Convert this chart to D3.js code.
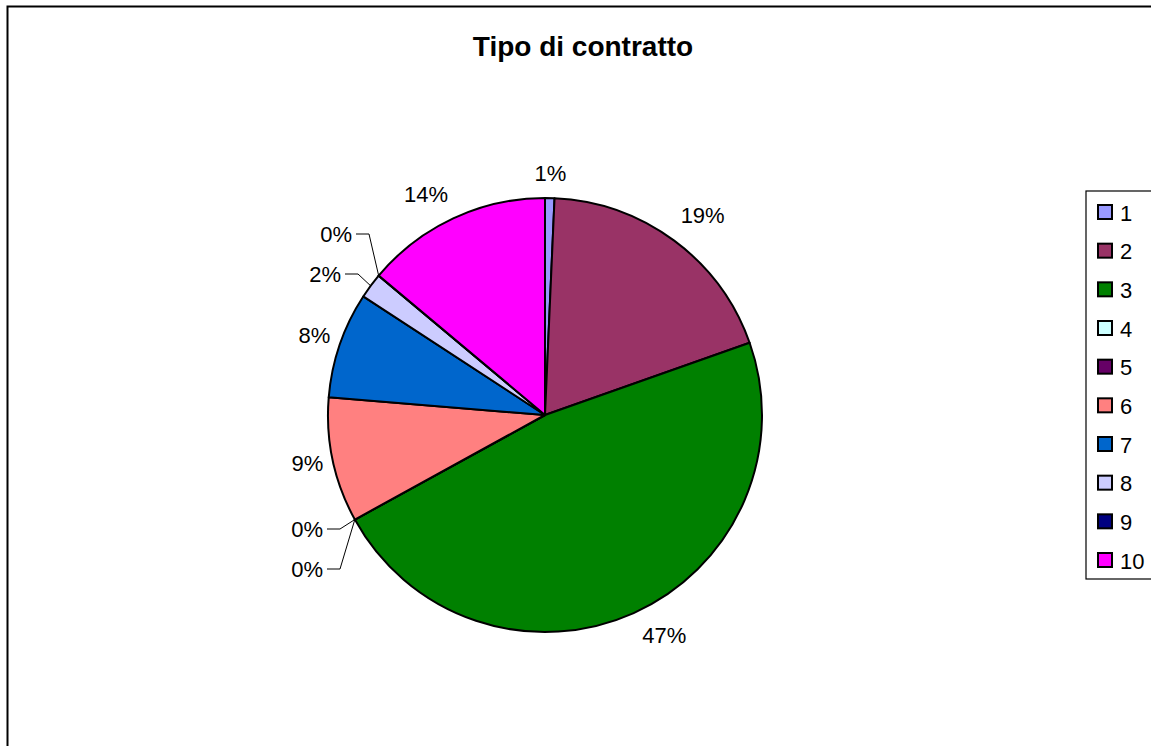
<!DOCTYPE html>
<html>
<head>
<meta charset="utf-8">
<script src="https://cdn.jsdelivr.net/npm/d3@7"></script>
<style>
  body { margin: 0; background: #fff; }
  svg { display: block; font-family: "Liberation Sans", Arial, sans-serif; }
</style>
</head>
<body>
<div id="chart"></div>
<script>
// data (percent shares)
const categories = ["1", "2", "3", "4", "5", "6", "7", "8", "9", "10"];
const shares = [0.7, 18.9, 47.4, 0, 0, 9.3, 7.9, 1.9, 0, 13.9];
const colors = ["#9999FF", "#993366", "#008000", "#CCFFFF", "#660066",
                "#FF8080", "#0066CC", "#CCCCFF", "#000080", "#FF00FF"];
const title = "Tipo di contratto";

const width = 1151, height = 746;
const cx = 545, cy = 415, radius = 217;

// label placement tweaks (layout only)
const labelNudge = { 0: [0, 6], 1: [10, 0], 2: [18, -6], 5: [5, -3], 6: [4, 1], 9: [-14, 4] };
// labels pulled away with leader lines: offset of text end from pie centre
const leaderLabels = { 3: [-222, 114], 4: [-222, 154], 7: [-204, -141], 8: [-193, -181] };

const svg = d3.select("#chart").append("svg")
  .attr("width", width)
  .attr("height", height);

// chart frame
svg.append("rect")
  .attr("x", 7.5).attr("y", 6.5)
  .attr("width", 1160).attr("height", 770)
  .attr("fill", "none").attr("stroke", "#000").attr("stroke-width", 2);

svg.append("text")
  .attr("x", 583).attr("y", 56)
  .attr("text-anchor", "middle")
  .attr("font-weight", "bold")
  .attr("font-size", 28)
  .text(title);

const data = categories.map((c, i) => ({ cat: c, value: shares[i], i }));
const total = d3.sum(shares);

const pie = d3.pie().sort(null).value(d => d.value);
const arcs = pie(data);
const arc = d3.arc().innerRadius(0).outerRadius(radius);

const g = svg.append("g").attr("transform", `translate(${cx},${cy})`);

g.selectAll("path.slice")
  .data(arcs)
  .join("path")
    .attr("class", "slice")
    .attr("d", arc)
    .attr("fill", d => colors[d.data.i])
    .attr("stroke", "#000")
    .attr("stroke-width", 2)
    .attr("stroke-linejoin", "round");

const pct = d => Math.round(d.data.value / total * 100) + "%";
const mid = d => (d.startAngle + d.endAngle) / 2;

arcs.forEach(d => {
  const a = mid(d);
  const i = d.data.i;
  if (leaderLabels[i]) {
    const [ex, ey] = leaderLabels[i];
    const px = Math.sin(a) * radius, py = -Math.cos(a) * radius;
    g.append("polyline")
      .attr("points", [[ex + 4, ey], [ex + 17, ey], [px, py]].map(p => p.join(",")).join(" "))
      .attr("fill", "none").attr("stroke", "#000").attr("stroke-width", 1);
    g.append("text")
      .attr("x", ex).attr("y", ey)
      .attr("text-anchor", "end")
      .attr("dominant-baseline", "central")
      .attr("font-size", 22)
      .text(pct(d));
  } else {
    const r = 248;
    const [nx, ny] = labelNudge[i] || [0, 0];
    g.append("text")
      .attr("x", Math.sin(a) * r + nx)
      .attr("y", -Math.cos(a) * r + ny)
      .attr("text-anchor", "middle")
      .attr("dominant-baseline", "central")
      .attr("font-size", 22)
      .text(pct(d));
  }
});

// legend
const legend = svg.append("g");
legend.append("rect")
  .attr("x", 1086).attr("y", 191)
  .attr("width", 100).attr("height", 388)
  .attr("fill", "#fff").attr("stroke", "#000").attr("stroke-width", 1.2);

const ly = d3.scalePoint().domain(categories).range([212, 560]);

const item = legend.selectAll("g.item")
  .data(categories)
  .join("g")
    .attr("class", "item")
    .attr("transform", d => `translate(1098,${ly(d)})`);

item.append("rect")
  .attr("x", 0).attr("y", -7)
  .attr("width", 14).attr("height", 14)
  .attr("fill", (d, i) => colors[i])
  .attr("stroke", "#000").attr("stroke-width", 2);

item.append("text")
  .attr("x", 22).attr("y", 1)
  .attr("dominant-baseline", "central")
  .attr("font-size", 22)
  .text(d => d);
</script>
</body>
</html>
